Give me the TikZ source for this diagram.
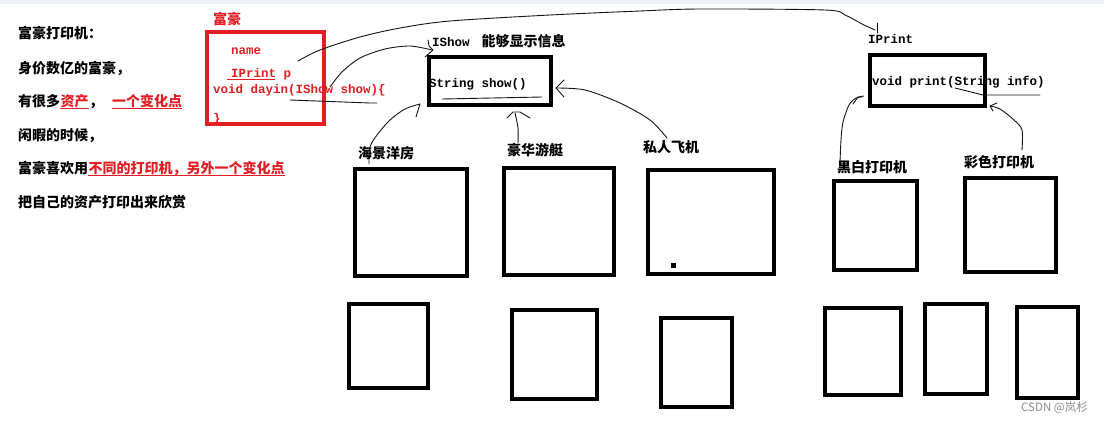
\documentclass[tikz,border=0pt]{standalone}
\usepackage{fontspec}
\setmainfont{Noto Sans CJK SC}
\newfontfamily\codefont{Liberation Mono}
\definecolor{myred}{RGB}{226,30,36}
\definecolor{topband}{RGB}{238,242,248}
\definecolor{ink}{RGB}{20,20,20}
\tikzset{
  txt/.style={anchor=base west, inner sep=0pt, font=\bfseries\fontsize{14}{16}\selectfont},
  code/.style={anchor=base west, inner sep=0pt, font=\codefont\bfseries\fontsize{12.5}{14}\selectfont},
  bx/.style={draw=black, line width=4pt, inner sep=0pt, anchor=center},
  redbx/.style={draw=myred, line width=4pt, inner sep=0pt, anchor=center},
  hand/.style={draw=ink, line width=0.9pt, line cap=round, line join=round},
  uline/.style={draw=myred, line width=0.9pt},
}
\begin{document}
\begin{tikzpicture}[x=1pt,y=-1pt]
\useasboundingbox (0,0) rectangle (1104,423);
\fill[white] (0,0) rectangle (1104,423);
\fill[topband] (0,0) rectangle (1104,4);

% left description text
\node[txt] (l1) at (18,38.5) {富豪打印机：};
\node[txt] (l2) at (18,73.5) {身价数亿的富豪，};
\node[txt] (l3a) at (18,106.5) {有很多};
\node[txt, text=myred] (l3b) at (l3a.base east) {资产};
\node[txt] (l3c) at (l3b.base east) {，};
\node[txt, text=myred] (l3d) at (112,106.5) {一个变化点};
\draw[uline] ([yshift=-1.6pt]l3b.base west) -- ([yshift=-1.6pt]l3b.base east);
\draw[uline] ([yshift=-1.6pt]l3d.base west) -- ([yshift=-1.6pt]l3d.base east);
\node[txt] (l4) at (18,140) {闲暇的时候，};
\node[txt] (l5a) at (18,173.5) {富豪喜欢用};
\node[txt, text=myred] (l5b) at (l5a.base east) {不同的打印机，另外一个变化点};
\draw[uline] ([yshift=-1.6pt]l5b.base west) -- ([yshift=-1.6pt]l5b.base east);
\node[txt] (l6) at (18,207.5) {把自己的资产打印出来欣赏};

% rich man box
\node[txt, text=myred] (fuhao) at (213,24) {富豪};
\node[redbx, minimum width=117pt, minimum height=92pt] (rich) at (265.5,78) {};
\node[code, text=myred] (fname) at (231,54.5) {name};
\node[code, text=myred] (fp) at (231,77.5) {IPrint p};
\node[code, text=myred] (fday) at (213,93.5) {void dayin(IShow show)\{};
\node[code, text=myred] (fend) at (213,122) {\}};
\coordinate (ulA) at (227,79);
\coordinate (ulB) at (275,79);
\draw[uline] (ulA) -- (ulB);

% IShow interface
\node[anchor=base west, inner sep=0pt, font=\bfseries\fontsize{14}{16}\selectfont] (ishowlbl) at (432,46)
  {{\codefont\bfseries\fontsize{12.5}{14}\selectfont IShow}\hspace{12pt}能够显示信息};
\node[bx, line width=3.8pt, minimum width=122pt, minimum height=48pt] (ishow) at (490,81) {};
\node[code] (sshow) at (429,87) {String show()};

% IPrint interface
\node[code] (iprintlbl) at (868,43.5) {IPrint};
\node[bx, minimum width=115pt, minimum height=51pt] (iprint) at (927.5,80.5) {};
\node[code] (vprint) at (872,85.5) {void print(String info)};

% asset labels and boxes
\node[txt] (hj) at (358,158) {海景洋房};
\node[txt] (hh) at (507,155) {豪华游艇};
\node[txt] (sr) at (643,152) {私人飞机};
\node[txt] (hb) at (837,172) {黑白打印机};
\node[txt] (cs) at (964,167) {彩色打印机};

\node[bx, minimum width=112pt, minimum height=107pt] (b1) at (411,222.5) {};
\node[bx, minimum width=110pt, minimum height=107pt] (b2) at (559,221.5) {};
\node[bx, minimum width=126pt, minimum height=104pt] (b3) at (711,222) {};
\node[bx, minimum width=83pt, minimum height=89pt] (b4) at (875.5,225.5) {};
\node[bx, minimum width=91pt, minimum height=94pt] (b5) at (1010.5,225) {};
\node[fill=black, inner sep=0pt, minimum size=5pt] (dot) at (673,265) {};

\node[bx, minimum width=79pt, minimum height=84pt] (c1) at (388.5,346) {};
\node[bx, minimum width=85pt, minimum height=89pt] (c2) at (554.5,354.5) {};
\node[bx, minimum width=71pt, minimum height=89pt] (c3) at (696.5,362.5) {};
\node[bx, minimum width=76pt, minimum height=87pt] (c4) at (863,351.5) {};
\node[bx, minimum width=62pt, minimum height=90pt] (c5) at (956,349) {};
\node[bx, minimum width=61pt, minimum height=91pt] (c6) at (1047.5,352.5) {};

% hand drawn connectors
\coordinate (p1s) at (298,61);
\coordinate (p1e) at (875,30);
\draw[hand] plot[smooth, tension=0.5] coordinates {(p1s) (320,50) (360,37) (400,28) (450,21) (550,15) (640,11) (700,9) (825,10) (845,15) (862,24) (p1e)};
\draw[hand] (877,23) -- (877,33);

\coordinate (p2s) at (330,87);
\coordinate (p2e) at (432,50);
\draw[hand] plot[smooth, tension=0.5] coordinates {(p2s) (342,72) (360,58) (385,49) (410,46) (p2e)};
\draw[hand] (428,40) -- (429,46) -- (433,50) -- (425,57);

\coordinate (p3s) at (290,100);
\coordinate (p3e) at (377,103);
\draw[hand] (p3s) -- (370,103) -- (p3e);

\coordinate (p4s) at (369,164);
\coordinate (p4e) at (420,104);
\draw[hand] plot[smooth, tension=0.5] coordinates {(p4s) (370,147) (377,135) (390,120) (405,109) (p4e)};
\draw[hand] (420,104) -- (416,117);

\coordinate (p5s) at (518,143);
\coordinate (p5e) at (515,113);
\draw[hand] plot[smooth, tension=0.5] coordinates {(p5s) (518,128) (p5e)};
\draw[hand] (507,118) -- (513,112) -- (520,112) -- (530,118);

\coordinate (p6s) at (667,138);
\coordinate (p6e) at (556,88);
\draw[hand] plot[smooth, tension=0.5] coordinates {(p6s) (650,120) (620,103) (585,90) (p6e)};
\draw[hand] (564,80) -- (556,88) -- (564,97);

\coordinate (p7s) at (840,163);
\coordinate (p7e) at (862,97);
\draw[hand] plot[smooth, tension=0.5] coordinates {(p7s) (841,140) (843,122) (849,105) (856,98) (p7e)};
\draw[hand] (853,104) -- (858,97) -- (864,96);

\coordinate (p8s) at (1022,150);
\coordinate (p8e) at (990,106);
\draw[hand] plot[smooth, tension=0.5] coordinates {(p8s) (1022,130) (1014,120) (1000,109) (p8e)};
\draw[hand] (997,103) -- (990,106) -- (993,111);

\coordinate (p9s) at (955,88);
\coordinate (p9e) at (1040,95);
\draw[hand] (p9s) -- (983,95) -- (p9e);

\coordinate (p10s) at (442,99);
\coordinate (p10e) at (542,97);
\draw[hand] (p10s) -- (p10e);

% watermark
\node[anchor=west, inner sep=0pt, text=black!45, font=\fontsize{11.5}{13}\selectfont] (wm) at (1021,408) {CSDN @岚杉};
\end{tikzpicture}
\end{document}
